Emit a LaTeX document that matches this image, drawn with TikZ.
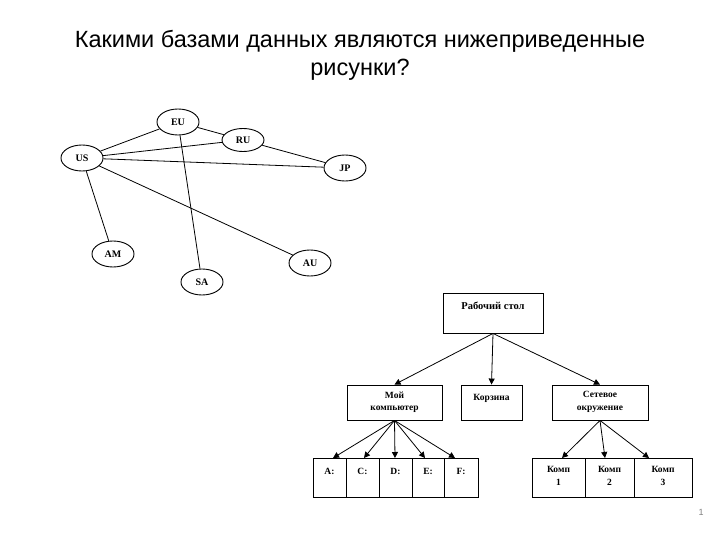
\documentclass[tikz,border=0pt]{standalone}
\usepackage{fontspec}
\setmainfont{Liberation Serif}
\newfontfamily\titlefont{Liberation Sans}
\usetikzlibrary{shapes.geometric,arrows.meta}
\begin{document}
\begin{tikzpicture}[x=1pt,y=-1pt,
  country/.style={draw, ellipse, line width=0.9pt, minimum width=42pt, minimum height=26pt, inner sep=0pt, font=\fontsize{10}{11}\selectfont\bfseries},
  edge/.style={line width=0.8pt},
  box/.style={draw, line width=0.9pt, inner sep=0pt},
  lbl/.style={font=\fontsize{9.5}{12.5}\selectfont\bfseries, align=center, inner sep=0pt},
  arr/.style={line width=0.8pt, -{Triangle[length=6pt,width=6pt]}}]
\useasboundingbox (0,0) rectangle (720,540);
% title
\node[font=\titlefont\fontsize{23.5}{28}\selectfont, align=center] (title) at (360,55) {Какими базами данных являются нижеприведенные\\рисунки?};
% network
\node[country] (EU) at (178,122) {EU};
\node[country, minimum height=23pt] (RU) at (243,140) {RU};
\node[country] (US) at (82,158) {US};
\node[country] (JP) at (345,168) {JP};
\node[country] (AM) at (113,254) {AM};
\node[country] (SA) at (202,282) {SA};
\node[country] (AU) at (310,263) {AU};
\draw[edge] (US) -- (EU);
\draw[edge] (EU) -- (RU);
\draw[edge] (EU) -- (SA);
\draw[edge] (US) -- (RU);
\draw[edge] (US) -- (JP);
\draw[edge] (RU) -- (JP);
\draw[edge] (US) -- (AM);
\draw[edge] (US) -- (AU);
% tree
\node[box, minimum width=100pt, minimum height=40pt] (ws) at (493,313) {};
\node[lbl, font=\fontsize{10.5}{12}\selectfont\bfseries] (wst) at (493,306) {Рабочий стол};
\node[box, minimum width=95pt, minimum height=35pt] (mc) at (394.5,402.5) {};
\node[lbl] (mct) at (394.5,402) {Мой\\компьютер};
\node[box, minimum width=61pt, minimum height=35pt] (bin) at (491.5,402.5) {};
\node[lbl] (bint) at (491.5,398) {Корзина};
\node[box, minimum width=96pt, minimum height=35pt] (net) at (600,402.5) {};
\node[lbl] (nett) at (600,402) {Сетевое\\окружение};
% drives
\node[box, minimum width=33pt, minimum height=39pt] (dA) at (329.5,477.5) {};
\node[box, minimum width=33pt, minimum height=39pt] (dC) at (362.5,477.5) {};
\node[box, minimum width=33pt, minimum height=39pt] (dD) at (395.5,477.5) {};
\node[box, minimum width=32pt, minimum height=39pt] (dE) at (428,477.5) {};
\node[box, minimum width=34pt, minimum height=39pt] (dF) at (461,477.5) {};
\node[lbl] (tA) at (329.5,471) {A:};
\node[lbl] (tC) at (362.5,471) {C:};
\node[lbl] (tD) at (395.5,471) {D:};
\node[lbl] (tE) at (428,471) {E:};
\node[lbl] (tF) at (461,471) {F:};
% computers
\node[box, minimum width=53pt, minimum height=39pt] (k1) at (558.5,477.5) {};
\node[box, minimum width=49pt, minimum height=39pt] (k2) at (609.5,477.5) {};
\node[box, minimum width=58pt, minimum height=39pt] (k3) at (663,477.5) {};
\node[lbl] (k1t) at (558.5,476) {Комп\\1};
\node[lbl] (k2t) at (609.5,476) {Комп\\2};
\node[lbl] (k3t) at (663,476) {Комп\\3};
% arrows
\draw[arr] (ws.south) -- (mc.north);
\draw[arr] (ws.south) -- (bin.north);
\draw[arr] (ws.south) -- (net.north);
\coordinate (cA) at (333,458);
\coordinate (cC) at (364,458);
\coordinate (cD) at (395,458);
\coordinate (cE) at (425,458);
\coordinate (cF) at (455,458);
\draw[arr] (mc.south) -- (cA);
\draw[arr] (mc.south) -- (cC);
\draw[arr] (mc.south) -- (cD);
\draw[arr] (mc.south) -- (cE);
\draw[arr] (mc.south) -- (cF);
\coordinate (c1) at (562,458);
\coordinate (c2) at (605,458);
\coordinate (c3) at (649,458);
\draw[arr] (net.south) -- (c1);
\draw[arr] (net.south) -- (c2);
\draw[arr] (net.south) -- (c3);
% page number
\node[font=\titlefont\fontsize{9}{10}\selectfont, text=gray] (pn) at (701,512) {1};
\end{tikzpicture}
\end{document}
